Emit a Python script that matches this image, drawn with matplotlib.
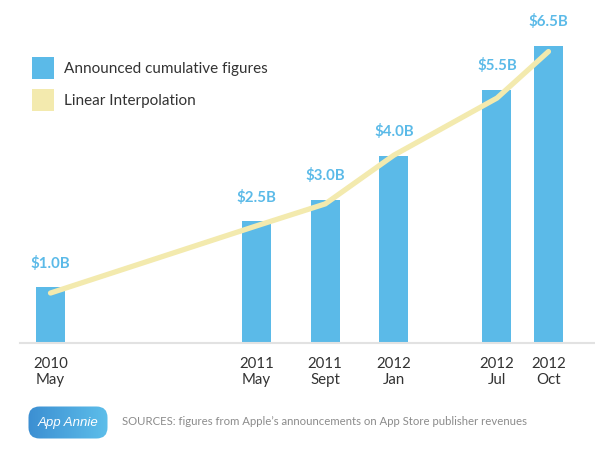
import matplotlib
matplotlib.use("Agg")
import matplotlib.pyplot as plt
import numpy as np
from matplotlib.patches import Rectangle, FancyBboxPatch
from matplotlib.colors import LinearSegmentedColormap

plt.rcParams['font.family'] = ['Lato', 'DejaVu Sans']

# ---- data ----
periods = ["2010-05", "2011-05", "2011-09", "2012-01", "2012-07", "2012-10"]
tick_labels = ["2010\nMay", "2011\nMay", "2011\nSept", "2012\nJan", "2012\nJul", "2012\nOct"]
revenue = [1.0, 2.5, 3.0, 4.0, 5.5, 6.5]            # announced cumulative figures ($B)
interp = [0.87, 2.40, 2.90, 4.01, 5.31, 6.37]        # linear interpolation curve
value_labels = ["$1.0B", "$2.5B", "$3.0B", "$4.0B", "$5.5B", "$6.5B"]
legend_labels = ["Announced cumulative figures", "Linear Interpolation"]
source_text = "SOURCES: figures from Apple\u2019s announcements on App Store publisher revenues"
logo_text = "App Annie"

# month offsets from first period
def month_index(p):
    y, m = p.split("-")
    return int(y) * 12 + int(m)
months = [month_index(p) - month_index(periods[0]) for p in periods]

BAR_C = "#5BBAE8"
LINE_C = "#F3EAAE"
TXT_C = "#333333"

W, H = 595, 456
fig = plt.figure(figsize=(W / 100, H / 100), dpi=100)
fig.patch.set_facecolor("white")

# axes in pixel coords
ax_l, ax_r, ax_b, ax_t = 20, 595, H - 343.5, H
ax = fig.add_axes([ax_l / W, ax_b / H, (ax_r - ax_l) / W, (ax_t - ax_b) / H])
YMIN, YMAX = -0.257, 7.567
ax.set_xlim(-1.776, 31.71)
ax.set_ylim(YMIN, YMAX)

heights = [v - YMIN for v in revenue]
ax.bar(months, heights, bottom=YMIN, width=1.69, color=BAR_C, zorder=2)
ax.plot(months, interp, color=LINE_C, lw=3.8, solid_capstyle="round",
        solid_joinstyle="round", zorder=3)

for m, v, lab in zip(months, revenue, value_labels):
    ax.annotate(lab, (m, v), xytext=(0, 18), textcoords="offset points",
                ha="center", va="center", fontsize=10.8, fontweight="bold",
                color=BAR_C, zorder=4)

ax.set_xticks(months)
ax.set_xticklabels(tick_labels, fontsize=10.8, color=TXT_C, linespacing=1.25)
ax.tick_params(axis="x", length=0, pad=9.5)
ax.set_yticks([])
for s in ["top", "left", "right"]:
    ax.spines[s].set_visible(False)
ax.spines["bottom"].set_color("#E2E2E2")
ax.spines["bottom"].set_linewidth(1.5)
ax.set_facecolor("none")

# legend drawn in figure pixel space
for i, (lab, col) in enumerate(zip(legend_labels, [BAR_C, LINE_C])):
    y_top = 58 + i * 32
    fig.patches.append(Rectangle((32 / W, 1 - (y_top + 22) / H), 22 / W, 22 / H,
                                 transform=fig.transFigure, facecolor=col,
                                 edgecolor="none"))
    fig.text(63.5 / W, 1 - (y_top + 11) / H, lab, fontsize=11, color=TXT_C,
             ha="left", va="center")

# footer logo with gradient
lx0, lx1, ly0, ly1 = 28, 108, H - 440, H - 407
lw_, lh_ = lx1 - lx0, ly1 - ly0
lax = fig.add_axes([lx0 / W, ly0 / H, lw_ / W, lh_ / H])
lax.set_xlim(0, lw_)
lax.set_ylim(0, lh_)
lax.axis("off")
grad = np.linspace(0, 1, 256).reshape(1, -1)
cmap = LinearSegmentedColormap.from_list("g", ["#3C8FD2", "#5DBEEA"])
im = lax.imshow(grad, extent=[0, lw_, 0, lh_], aspect="auto", cmap=cmap)
box = FancyBboxPatch((0.5, 0.5), lw_ - 1, lh_ - 1,
                     boxstyle="round,pad=0,rounding_size=11",
                     transform=lax.transData, facecolor="none", edgecolor="none")
lax.add_patch(box)
im.set_clip_path(box)
lax.text(lw_ / 2, lh_ / 2, logo_text, color="white", fontsize=9.5, style="italic",
         ha="center", va="center", family=["Liberation Sans"])

fig.text(121.5 / W, 1 - 421.5 / H, source_text, fontsize=8.2, color="#8C8C8C",
         ha="left", va="center")

fig.savefig("out.png", dpi=100, facecolor="white")
